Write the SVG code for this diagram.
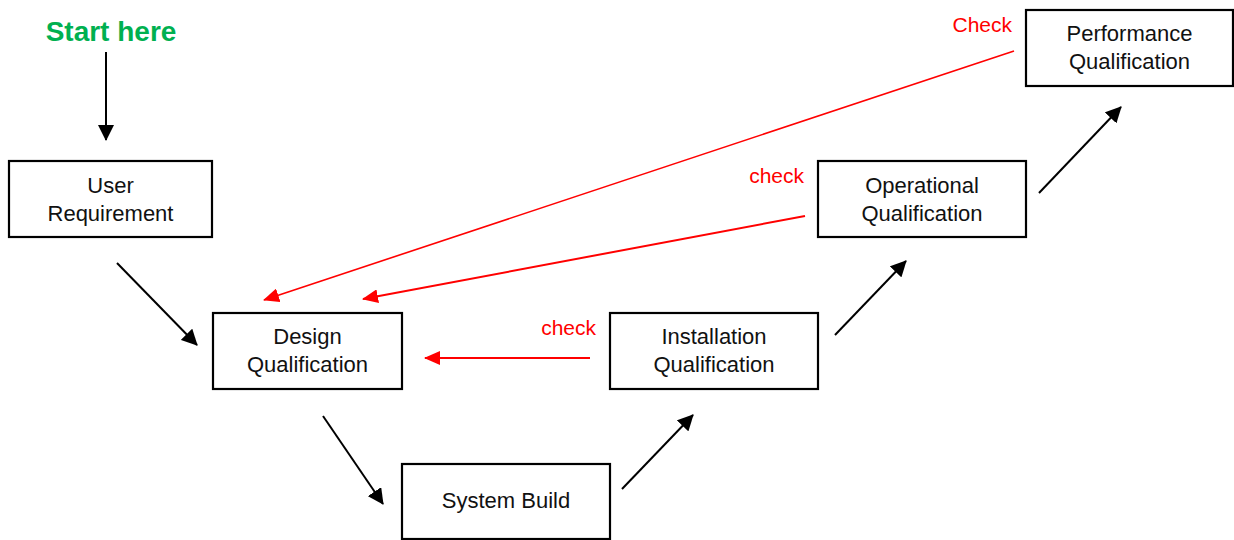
<svg xmlns="http://www.w3.org/2000/svg" width="1234" height="540" viewBox="0 0 1234 540">
  <style>
    .box { fill: #ffffff; stroke: #000000; stroke-width: 2.2; }
    .lbl { font-family: "Liberation Sans", Arial, sans-serif; font-size: 22px; fill: #111111; text-anchor: middle; }
    .chk { font-family: "Liberation Sans", Arial, sans-serif; font-size: 21px; fill: #ff0000; text-anchor: end; }
    .flow { stroke: #000000; stroke-width: 2; fill: none; marker-end: url(#headBlack); }
    .back { stroke: #ff0000; stroke-width: 2; fill: none; marker-end: url(#headRed); }
    .start { font-family: "Liberation Sans", Arial, sans-serif; font-size: 28px; font-weight: bold; fill: #00b050; text-anchor: middle; }
  </style>
  <defs>
    <marker id="headBlack" markerUnits="userSpaceOnUse" markerWidth="16" markerHeight="16" viewBox="0 0 16 16" refX="15" refY="8" orient="auto">
      <path d="M0,0 L16,8 L0,16 z" fill="#000000"/>
    </marker>
    <marker id="headRed" markerUnits="userSpaceOnUse" markerWidth="16" markerHeight="14" viewBox="0 0 16 14" refX="15" refY="7" orient="auto">
      <path d="M0,0 L16,7 L0,14 z" fill="#ff0000"/>
    </marker>
  </defs>

  <rect width="1234" height="540" fill="#ffffff"/>

  <text class="start" x="111" y="41">Start here</text>

  <g id="connectors">
    <line class="flow" x1="106" y1="52" x2="106" y2="140"/>
    <line class="flow" x1="117" y1="263" x2="197" y2="345"/>
    <line class="flow" x1="323" y1="416" x2="383" y2="504"/>
    <line class="flow" x1="622" y1="489" x2="693" y2="415"/>
    <line class="flow" x1="835" y1="335" x2="906" y2="261"/>
    <line class="flow" x1="1039" y1="193" x2="1121" y2="107"/>

    <line class="back" x1="590" y1="358" x2="425" y2="358"/>
    <line class="back" x1="805" y1="216" x2="363" y2="299"/>
    <line class="back" x1="1014" y1="51" x2="264" y2="300" style="stroke-width:1.6"/>

    <text class="chk" x="596" y="335">check</text>
    <text class="chk" x="804" y="183">check</text>
    <text class="chk" x="1012" y="32">Check</text>
  </g>

  <g id="user-requirement">
    <rect class="box" x="9" y="161" width="203" height="76"/>
    <text class="lbl" x="110.5" y="193">User</text>
    <text class="lbl" x="110.5" y="221">Requirement</text>
  </g>

  <g id="design-qualification">
    <rect class="box" x="213" y="313" width="189" height="76"/>
    <text class="lbl" x="307.5" y="344">Design</text>
    <text class="lbl" x="307.5" y="372">Qualification</text>
  </g>

  <g id="system-build">
    <rect class="box" x="402" y="464" width="208" height="75"/>
    <text class="lbl" x="506" y="508">System Build</text>
  </g>

  <g id="installation-qualification">
    <rect class="box" x="610" y="313" width="208" height="76"/>
    <text class="lbl" x="714" y="344">Installation</text>
    <text class="lbl" x="714" y="372">Qualification</text>
  </g>

  <g id="operational-qualification">
    <rect class="box" x="818" y="161" width="208" height="76"/>
    <text class="lbl" x="922" y="193">Operational</text>
    <text class="lbl" x="922" y="221">Qualification</text>
  </g>

  <g id="performance-qualification">
    <rect class="box" x="1026" y="10" width="207" height="76"/>
    <text class="lbl" x="1129.5" y="41">Performance</text>
    <text class="lbl" x="1129.5" y="69">Qualification</text>
  </g>
</svg>
